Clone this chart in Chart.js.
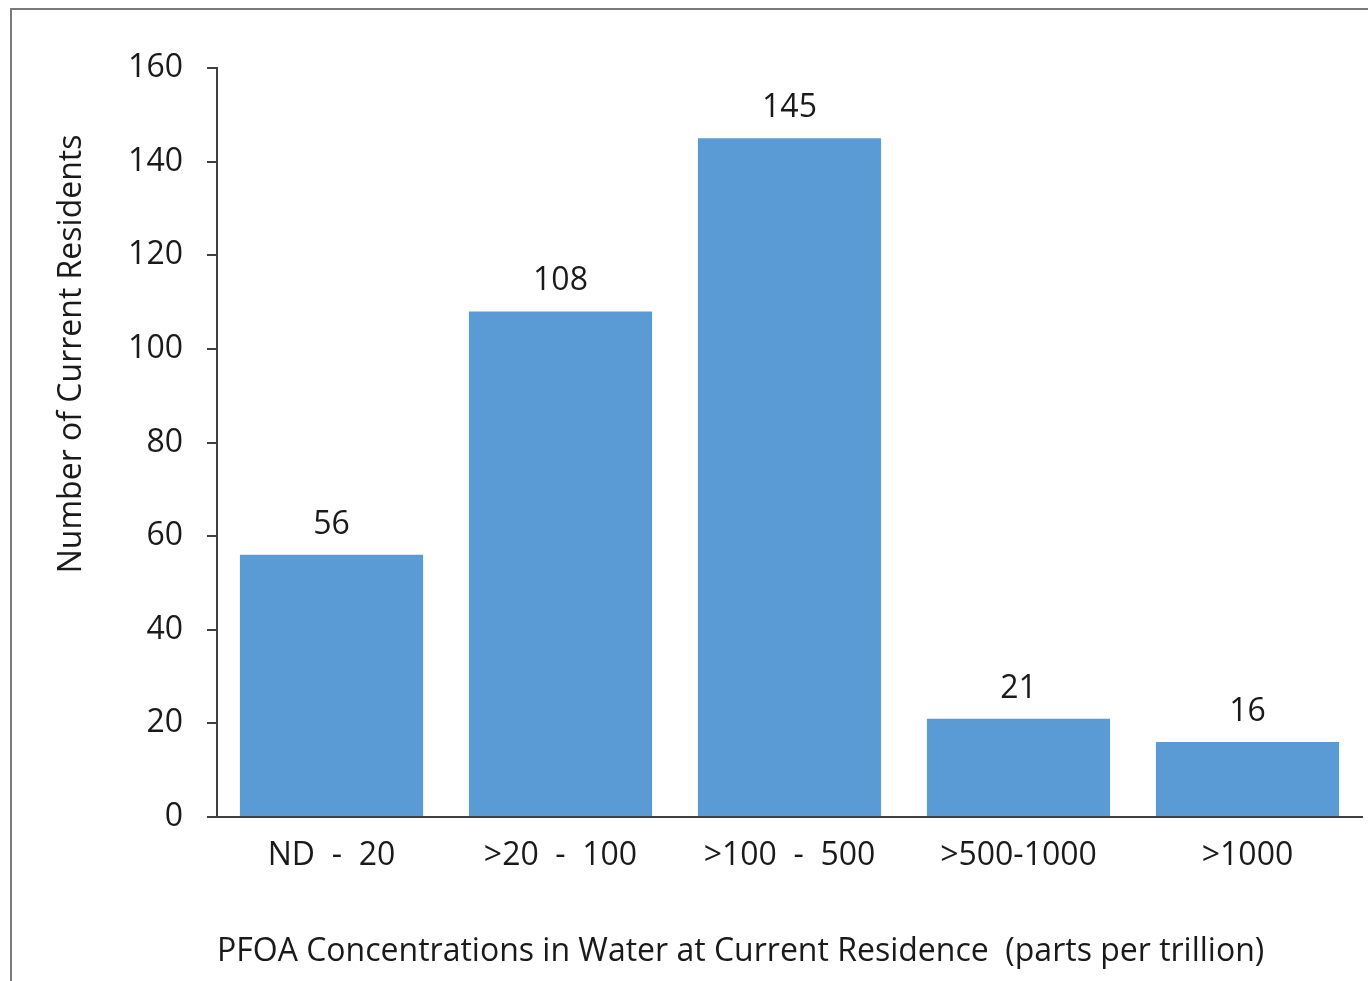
<!DOCTYPE html>
<html>
<head>
<meta charset="utf-8">
<script src="https://cdn.jsdelivr.net/npm/chart.js@4/dist/chart.umd.min.js"></script>
<style>
  html, body { margin: 0; padding: 0; background: #fff; overflow: hidden; }
  #wrap { position: relative; width: 1368px; height: 981px; }
  #frame { position: absolute; left: 10px; top: 8px; width: 1400px; height: 1000px;
           border-left: 2px solid #7a7a7a; border-top: 2px solid #7a7a7a; pointer-events: none; }
  canvas { position: absolute; left: 0; top: 0; }
</style>
</head>
<body>
<div id="wrap">
  <canvas id="c" width="1368" height="981"></canvas>
  <div id="frame"></div>
</div>
<script>
const categories = ["ND  -  20", ">20  -  100", ">100  -  500", ">500-1000", ">1000"];
const residents = [56, 108, 145, 21, 16];
const yTicks = [0, 20, 40, 60, 80, 100, 120, 140, 160];
const xTitle = "PFOA Concentrations in Water at Current Residence  (parts per trillion)";
const yTitle = "Number of Current Residents";

const FONT = "'Open Sans', sans-serif";
const TEXT = '#1a1a1a';
const AXIS = '#404040';

const valueLabels = {
  id: 'valueLabels',
  afterDatasetsDraw(chart) {
    const ctx = chart.ctx;
    const meta = chart.getDatasetMeta(0);
    ctx.save();
    ctx.font = '32px ' + FONT;
    ctx.fillStyle = TEXT;
    ctx.textAlign = 'center';
    ctx.textBaseline = 'alphabetic';
    meta.data.forEach((bar, i) => {
      ctx.fillText(String(chart.data.datasets[0].data[i]), bar.x, bar.y - 21);
    });
    ctx.restore();
  }
};

new Chart(document.getElementById('c'), {
  type: 'bar',
  data: {
    labels: categories,
    datasets: [{
      data: residents,
      backgroundColor: '#5B9BD5',
      borderWidth: 0,
      barPercentage: 0.8,
      categoryPercentage: 1.0
    }]
  },
  options: {
    responsive: false,
    animation: false,
    devicePixelRatio: 1,
    layout: { padding: { top: 68, right: 6, left: 0, bottom: 0 } },
    plugins: { legend: { display: false }, tooltip: { enabled: false } },
    scales: {
      x: {
        afterFit(scale) { scale.height = 164; },
        grid: { display: true, drawOnChartArea: false, drawTicks: false, color: AXIS },
        border: { display: true, color: AXIS, width: 2 },
        ticks: { color: TEXT, font: { family: FONT, size: 32 }, padding: 20, maxRotation: 0, autoSkip: false },
        title: {
          display: true, text: xTitle, align: 'start',
          color: TEXT, font: { family: FONT, size: 32 }, padding: { top: 0, bottom: 10 }
        }
      },
      y: {
        min: 0, max: 160,
        afterFit(scale) { scale.width = 217; },
        afterBuildTicks(scale) { scale.ticks = yTicks.map(v => ({ value: v })); },
        grid: { display: true, drawOnChartArea: false, drawTicks: true, tickLength: 10, color: AXIS, lineWidth: 2 },
        border: { display: true, color: AXIS, width: 2 },
        ticks: { color: TEXT, font: { family: FONT, size: 32 }, padding: 24 },
        title: {
          display: true, text: yTitle + "\u00a0".repeat(8), align: 'end',
          color: TEXT, font: { family: FONT, size: 32 }, padding: { top: 53, bottom: 0 }
        }
      }
    }
  },
  plugins: [valueLabels]
});
</script>
</body>
</html>
